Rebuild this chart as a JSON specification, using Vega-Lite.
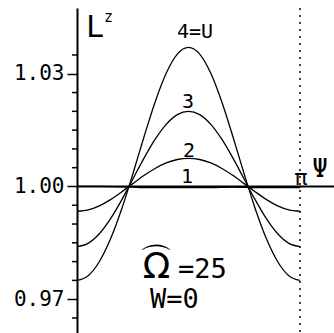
{
  "$schema": "https://vega.github.io/schema/vega-lite/v6.json",
  "width": 257,
  "height": 325,
  "autosize": "none",
  "padding": {"left": 77, "top": 8, "right": 0, "bottom": 0},
  "background": "white",
  "config": {
    "view": {"stroke": null},
    "text": {"font": "DejaVu Sans Mono", "color": "black"}
  },
  "datasets": {
    "curves": [
      {"curve": "4", "t": 0.00, "v": 0.97500}, {"curve": "4", "t": 0.05, "v": 0.97625}, {"curve": "4", "t": 0.10, "v": 0.97997},
      {"curve": "4", "t": 0.15, "v": 0.98599}, {"curve": "4", "t": 0.20, "v": 0.99394}, {"curve": "4", "t": 0.25, "v": 1.00326},
      {"curve": "4", "t": 0.30, "v": 1.01310}, {"curve": "4", "t": 0.35, "v": 1.02243}, {"curve": "4", "t": 0.40, "v": 1.03013},
      {"curve": "4", "t": 0.45, "v": 1.03522}, {"curve": "4", "t": 0.50, "v": 1.03700}, {"curve": "4", "t": 0.55, "v": 1.03522},
      {"curve": "4", "t": 0.60, "v": 1.03013}, {"curve": "4", "t": 0.65, "v": 1.02243}, {"curve": "4", "t": 0.70, "v": 1.01310},
      {"curve": "4", "t": 0.75, "v": 1.00326}, {"curve": "4", "t": 0.80, "v": 0.99394}, {"curve": "4", "t": 0.85, "v": 0.98599},
      {"curve": "4", "t": 0.90, "v": 0.97997}, {"curve": "4", "t": 0.95, "v": 0.97625}, {"curve": "4", "t": 1.00, "v": 0.97500},

      {"curve": "3", "t": 0.00, "v": 0.98400}, {"curve": "3", "t": 0.05, "v": 0.98487}, {"curve": "3", "t": 0.10, "v": 0.98741},
      {"curve": "3", "t": 0.15, "v": 0.99137}, {"curve": "3", "t": 0.20, "v": 0.99636}, {"curve": "3", "t": 0.25, "v": 1.00192},
      {"curve": "3", "t": 0.30, "v": 1.00749}, {"curve": "3", "t": 0.35, "v": 1.01253}, {"curve": "3", "t": 0.40, "v": 1.01653},
      {"curve": "3", "t": 0.45, "v": 1.01911}, {"curve": "3", "t": 0.50, "v": 1.02000}, {"curve": "3", "t": 0.55, "v": 1.01911},
      {"curve": "3", "t": 0.60, "v": 1.01653}, {"curve": "3", "t": 0.65, "v": 1.01253}, {"curve": "3", "t": 0.70, "v": 1.00749},
      {"curve": "3", "t": 0.75, "v": 1.00192}, {"curve": "3", "t": 0.80, "v": 0.99636}, {"curve": "3", "t": 0.85, "v": 0.99137},
      {"curve": "3", "t": 0.90, "v": 0.98741}, {"curve": "3", "t": 0.95, "v": 0.98487}, {"curve": "3", "t": 1.00, "v": 0.98400},

      {"curve": "2", "t": 0.00, "v": 0.99340}, {"curve": "2", "t": 0.05, "v": 0.99377}, {"curve": "2", "t": 0.10, "v": 0.99485},
      {"curve": "2", "t": 0.15, "v": 0.99651}, {"curve": "2", "t": 0.20, "v": 0.99855}, {"curve": "2", "t": 0.25, "v": 1.00076},
      {"curve": "2", "t": 0.30, "v": 1.00291}, {"curve": "2", "t": 0.35, "v": 1.00479}, {"curve": "2", "t": 0.40, "v": 1.00626},
      {"curve": "2", "t": 0.45, "v": 1.00718}, {"curve": "2", "t": 0.50, "v": 1.00750}, {"curve": "2", "t": 0.55, "v": 1.00718},
      {"curve": "2", "t": 0.60, "v": 1.00626}, {"curve": "2", "t": 0.65, "v": 1.00479}, {"curve": "2", "t": 0.70, "v": 1.00291},
      {"curve": "2", "t": 0.75, "v": 1.00076}, {"curve": "2", "t": 0.80, "v": 0.99855}, {"curve": "2", "t": 0.85, "v": 0.99651},
      {"curve": "2", "t": 0.90, "v": 0.99485}, {"curve": "2", "t": 0.95, "v": 0.99377}, {"curve": "2", "t": 1.00, "v": 0.99340},

      {"curve": "1", "t": 0.00, "v": 1.00000}, {"curve": "1", "t": 0.10, "v": 1.00000}, {"curve": "1", "t": 0.20, "v": 0.99990},
      {"curve": "1", "t": 0.25, "v": 0.99980}, {"curve": "1", "t": 0.30, "v": 0.99972}, {"curve": "1", "t": 0.40, "v": 0.99970},
      {"curve": "1", "t": 0.50, "v": 0.99970}, {"curve": "1", "t": 0.60, "v": 0.99972}, {"curve": "1", "t": 0.70, "v": 0.99985},
      {"curve": "1", "t": 0.75, "v": 0.99975}, {"curve": "1", "t": 0.80, "v": 0.99970}, {"curve": "1", "t": 0.90, "v": 0.99970},
      {"curve": "1", "t": 1.00, "v": 0.99970}
    ],
    "minorTicks": [
      {"v": 0.965}, {"v": 0.975}, {"v": 0.980}, {"v": 0.985}, {"v": 0.990}, {"v": 0.995},
      {"v": 1.005}, {"v": 1.010}, {"v": 1.015}, {"v": 1.020}, {"v": 1.025}, {"v": 1.035}
    ],
    "curveLabels": [
      {"label": "4=U", "t": 0.529, "v": 1.0395},
      {"label": "3", "t": 0.498, "v": 1.0209},
      {"label": "2", "t": 0.502, "v": 1.0078},
      {"label": "1", "t": 0.493, "v": 1.0009}
    ],
    "params": [
      {"label": "=25", "t": 0.453, "v": 0.9756},
      {"label": "W=0", "t": 0.327, "v": 0.9677}
    ]
  },
  "layer": [
    {
      "data": {"name": "curves"},
      "mark": {"type": "line", "interpolate": "monotone", "color": "black", "strokeWidth": 1.3},
      "encoding": {
        "x": {"field": "t", "type": "quantitative", "scale": {"domain": [0, 1.1525], "nice": false, "zero": false}, "axis": null},
        "y": {
          "field": "v", "type": "quantitative",
          "scale": {"domain": [0.961, 1.0475], "nice": false, "zero": false},
          "axis": {
            "title": null,
            "grid": false,
            "values": [0.97, 1.0, 1.03],
            "format": ".2f",
            "domainColor": "black",
            "domainWidth": 2,
            "tickColor": "black",
            "tickWidth": 1.5,
            "tickSize": 10,
            "labelOverlap": false,
            "labelBound": false,
            "labelFlush": false,
            "labelFont": "DejaVu Sans Mono",
            "labelFontSize": 21,
            "labelColor": "black",
            "labelPadding": 3
          }
        },
        "detail": {"field": "curve"}
      }
    },
    {
      "data": {"name": "minorTicks"},
      "mark": {"type": "rule", "color": "black", "strokeWidth": 1.5, "clip": false},
      "encoding": {
        "x": {"datum": -0.0224},
        "x2": {"datum": 0},
        "y": {"field": "v", "type": "quantitative"}
      }
    },
    {
      "data": {"values": [{"v": 1}]},
      "mark": {"type": "rule", "color": "black", "strokeWidth": 2},
      "encoding": {"y": {"field": "v", "type": "quantitative"}}
    },
    {
      "data": {"values": [{"t": 1}]},
      "mark": {"type": "rule", "color": "black", "strokeWidth": 1.5, "strokeDash": [2, 5]},
      "encoding": {"x": {"field": "t", "type": "quantitative"}}
    },
    {
      "data": {"name": "curveLabels"},
      "mark": {"type": "text", "fontSize": 20, "align": "center", "baseline": "alphabetic"},
      "encoding": {
        "x": {"field": "t", "type": "quantitative"},
        "y": {"field": "v", "type": "quantitative"},
        "text": {"field": "label"}
      }
    },
    {
      "data": {"name": "params"},
      "mark": {"type": "text", "fontSize": 27, "align": "left", "baseline": "alphabetic"},
      "encoding": {
        "x": {"field": "t", "type": "quantitative"},
        "y": {"field": "v", "type": "quantitative"},
        "text": {"field": "label"}
      }
    },
    {
      "data": {"values": [{"label": "Ω", "t": 0.3565, "v": 0.9756}]},
      "mark": {"type": "text", "font": "DejaVu Sans", "fontSize": 36, "align": "center", "baseline": "alphabetic"},
      "encoding": {
        "x": {"field": "t", "type": "quantitative"},
        "y": {"field": "v", "type": "quantitative"},
        "text": {"field": "label"}
      }
    },
    {
      "data": {"values": [{"label": "⌒", "t": 0.3565, "v": 0.9772}]},
      "mark": {"type": "text", "font": "DejaVu Sans", "fontSize": 34, "align": "center", "baseline": "alphabetic"},
      "encoding": {
        "x": {"field": "t", "type": "quantitative"},
        "y": {"field": "v", "type": "quantitative"},
        "text": {"field": "label"}
      }
    },
    {
      "data": {"values": [{"label": "π", "t": 1.004, "v": 1.0004}]},
      "mark": {"type": "text", "fontSize": 22, "align": "center", "baseline": "alphabetic"},
      "encoding": {
        "x": {"field": "t", "type": "quantitative"},
        "y": {"field": "v", "type": "quantitative"},
        "text": {"field": "label"}
      }
    },
    {
      "data": {"values": [{"label": "Ψ", "t": 1.09, "v": 1.0025}]},
      "mark": {"type": "text", "fontSize": 26, "align": "center", "baseline": "alphabetic"},
      "encoding": {
        "x": {"field": "t", "type": "quantitative"},
        "y": {"field": "v", "type": "quantitative"},
        "text": {"field": "label"}
      }
    },
    {
      "data": {"values": [{"label": "L", "t": 0.040, "v": 1.0398}]},
      "mark": {"type": "text", "fontSize": 30, "align": "left", "baseline": "alphabetic"},
      "encoding": {
        "x": {"field": "t", "type": "quantitative"},
        "y": {"field": "v", "type": "quantitative"},
        "text": {"field": "label"}
      }
    },
    {
      "data": {"values": [{"label": "z", "t": 0.121, "v": 1.0438}]},
      "mark": {"type": "text", "fontSize": 15, "align": "left", "baseline": "alphabetic"},
      "encoding": {
        "x": {"field": "t", "type": "quantitative"},
        "y": {"field": "v", "type": "quantitative"},
        "text": {"field": "label"}
      }
    }
  ]
}
